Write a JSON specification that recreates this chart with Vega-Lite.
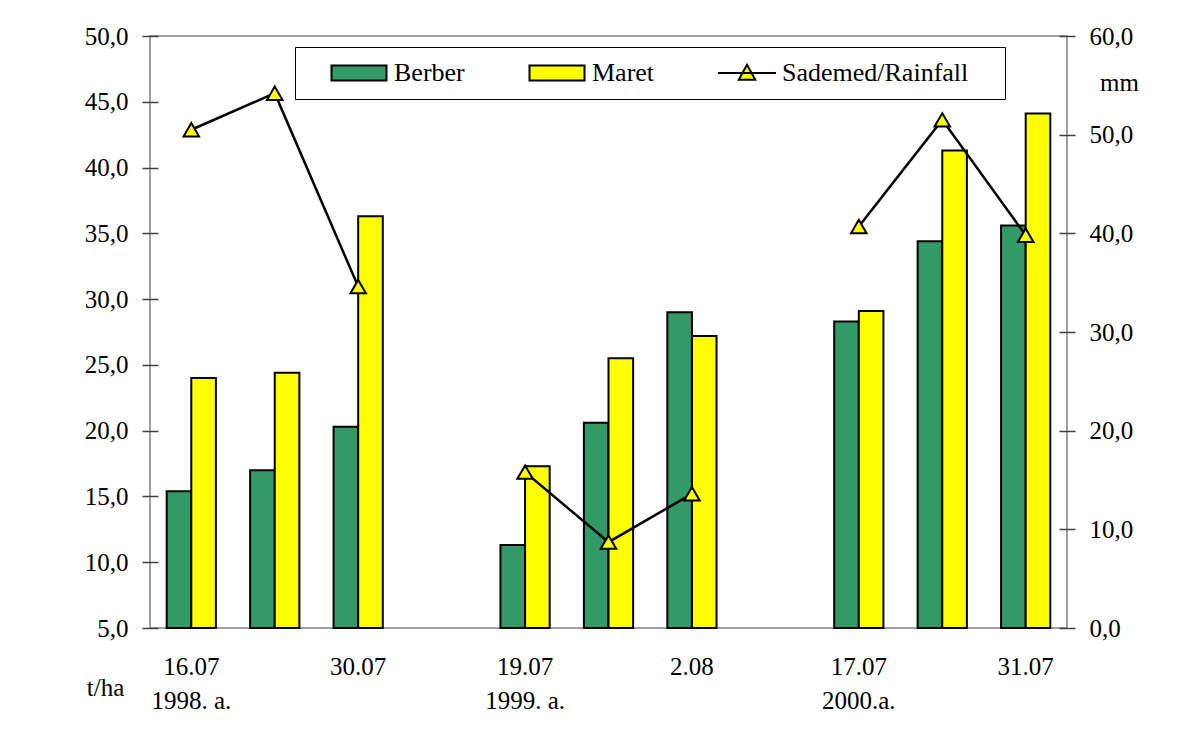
{
  "$schema": "https://vega.github.io/schema/vega-lite/v6.json",
  "width": 917,
  "height": 592,
  "autosize": "none",
  "padding": {"left": 150, "top": 36, "right": 121, "bottom": 121},
  "background": "white",
  "config": {
    "font": "Liberation Serif",
    "view": {"stroke": "#808080", "strokeWidth": 1.5},
    "axis": {"labelColor": "black", "titleColor": "black", "tickColor": "#404040", "domainColor": "#404040", "labelFont": "Liberation Serif", "titleFont": "Liberation Serif"}
  },
  "datasets": {
    "yield": [
      {"slot": "1998-1", "variety": "Berber", "value": 15.4},
      {"slot": "1998-1", "variety": "Maret", "value": 24.0},
      {"slot": "1998-2", "variety": "Berber", "value": 17.0},
      {"slot": "1998-2", "variety": "Maret", "value": 24.4},
      {"slot": "1998-3", "variety": "Berber", "value": 20.3},
      {"slot": "1998-3", "variety": "Maret", "value": 36.3},
      {"slot": "1999-1", "variety": "Berber", "value": 11.3},
      {"slot": "1999-1", "variety": "Maret", "value": 17.3},
      {"slot": "1999-2", "variety": "Berber", "value": 20.6},
      {"slot": "1999-2", "variety": "Maret", "value": 25.5},
      {"slot": "1999-3", "variety": "Berber", "value": 29.0},
      {"slot": "1999-3", "variety": "Maret", "value": 27.2},
      {"slot": "2000-1", "variety": "Berber", "value": 28.3},
      {"slot": "2000-1", "variety": "Maret", "value": 29.1},
      {"slot": "2000-2", "variety": "Berber", "value": 34.4},
      {"slot": "2000-2", "variety": "Maret", "value": 41.3},
      {"slot": "2000-3", "variety": "Berber", "value": 35.6},
      {"slot": "2000-3", "variety": "Maret", "value": 44.1}
    ],
    "rain": [
      {"slot": "1998-1", "year": "1998", "rain": 50.5},
      {"slot": "1998-2", "year": "1998", "rain": 54.2},
      {"slot": "1998-3", "year": "1998", "rain": 34.6},
      {"slot": "1999-1", "year": "1999", "rain": 15.8},
      {"slot": "1999-2", "year": "1999", "rain": 8.7},
      {"slot": "1999-3", "year": "1999", "rain": 13.6},
      {"slot": "2000-1", "year": "2000", "rain": 40.7},
      {"slot": "2000-2", "year": "2000", "rain": 51.5},
      {"slot": "2000-3", "year": "2000", "rain": 39.8}
    ]
  },
  "layer": [
    {
      "data": {"name": "yield"},
      "mark": {"type": "bar", "stroke": "black", "strokeWidth": 2},
      "encoding": {
        "x": {
          "field": "slot", "type": "nominal",
          "scale": {"domain": ["1998-1", "1998-2", "1998-3", "gap-1", "1999-1", "1999-2", "1999-3", "gap-2", "2000-1", "2000-2", "2000-3"], "paddingInner": 0.41, "paddingOuter": 0.2},
          "axis": {
            "title": null, "domain": false, "ticks": false, "labelAngle": 0, "labelAlign": "center", "labelBaseline": "top",
            "labelFontSize": 25, "labelPadding": 26, "labelLineHeight": 34, "labelOverlap": false,
            "labelExpr": "datum.value=='1998-1'?['16.07','1998. a.']:datum.value=='1998-3'?'30.07':datum.value=='1999-1'?['19.07','1999. a.']:datum.value=='1999-3'?'2.08':datum.value=='2000-1'?['17.07','2000.a.']:datum.value=='2000-3'?'31.07':''"
          }
        },
        "xOffset": {"field": "variety", "type": "nominal", "scale": {"domain": ["Berber", "Maret"]}},
        "y": {
          "field": "value", "type": "quantitative", "stack": null,
          "scale": {"domain": [5, 50], "nice": false, "zero": false},
          "axis": {
            "orient": "left", "values": [5, 10, 15, 20, 25, 30, 35, 40, 45, 50], "grid": false, "domain": false,
            "tickSize": 16, "offset": -8, "tickWidth": 1.5, "labelPadding": 14, "labelFontSize": 25,
            "labelExpr": "replace(format(datum.value,'.1f'),'.',',')",
            "title": "t/ha", "titleAngle": 0, "titleFontSize": 25, "titleFontWeight": "normal",
            "titleX": -53, "titleY": 651, "titleAlign": "center", "titleBaseline": "middle"
          }
        },
        "y2": {"datum": 5},
        "fill": {
          "field": "variety", "type": "nominal",
          "scale": {"domain": ["Berber", "Maret", "Sademed/Rainfall"], "range": ["#339966", "#FFFF00", "#FFFF00"]},
          "legend": {
            "title": null, "orient": "none", "legendX": 145, "legendY": 11, "direction": "horizontal", "columns": 3,
            "strokeColor": "black", "fillColor": "white", "padding": 13,
            "labelFontSize": 26, "labelColor": "black", "labelFont": "Liberation Serif", "labelLimit": 400,
            "symbolSize": 225, "symbolStrokeColor": "black", "symbolStrokeWidth": 2, "symbolOpacity": 1,
            "symbolOffset": 38, "labelOffset": 22, "columnPadding": 41,
            "encode": {
              "symbols": {
                "update": {
                  "shape": {"signal": "datum.value === 'Sademed/Rainfall' ? 'M-3.867,0H3.867M0,-1.1L1.1,0.9L-1.1,0.9ZM32.1,0' : 'M-3.667,-1H3.667V1H-3.667Z'"}
                }
              }
            }
          }
        }
      }
    },
    {
      "data": {"name": "rain"},
      "layer": [
        {
          "mark": {"type": "line", "color": "black", "strokeWidth": 2.5},
          "encoding": {
            "x": {"field": "slot", "type": "nominal"},
            "y": {
              "field": "rain", "type": "quantitative",
              "scale": {"domain": [0, 60], "nice": false},
              "axis": {
                "orient": "right", "values": [0, 10, 20, 30, 40, 50, 60], "grid": false, "domain": false,
                "tickSize": 16, "offset": -8, "tickWidth": 1.5, "labelPadding": 14, "labelFontSize": 25,
                "labelExpr": "replace(format(datum.value,'.1f'),'.',',')",
                "title": "mm", "titleAngle": 0, "titleFontSize": 25, "titleFontWeight": "normal",
                "titleX": 60, "titleY": 46, "titleAlign": "center", "titleBaseline": "middle"
              }
            },
            "detail": {"field": "year", "type": "nominal"}
          }
        },
        {
          "mark": {"type": "point", "shape": "triangle-up", "filled": true, "size": 240, "stroke": "black", "strokeWidth": 2, "opacity": 1},
          "encoding": {
            "x": {"field": "slot", "type": "nominal"},
            "y": {"field": "rain", "type": "quantitative"},
            "fill": {"datum": "Sademed/Rainfall"}
          }
        }
      ]
    }
  ],
  "resolve": {"scale": {"y": "independent"}}
}
